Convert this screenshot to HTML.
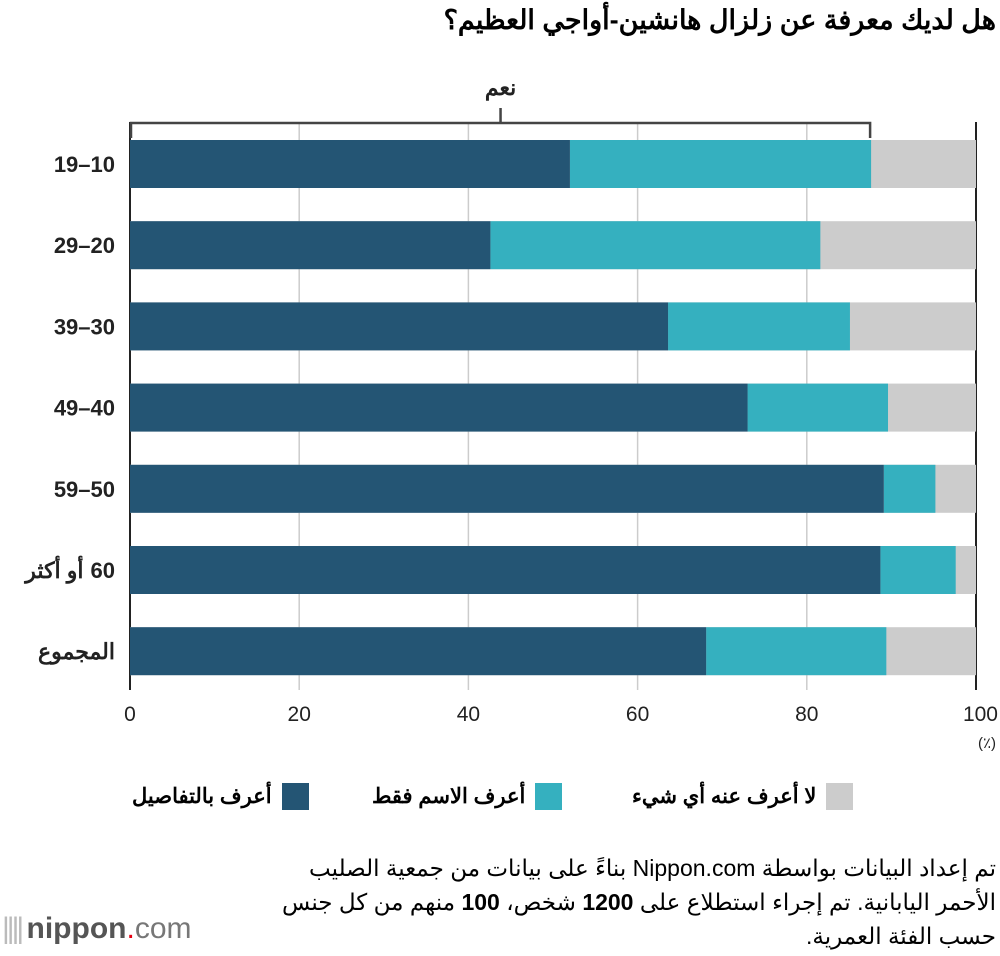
<!DOCTYPE html>
<html><head><meta charset="utf-8">
<style>
body{margin:0;width:1000px;height:956px;background:#fff;font-family:"Liberation Sans","Noto Sans CJK SC",sans-serif;overflow:hidden;position:relative}
.t{position:absolute;white-space:nowrap}
</style></head><body>
<div class="t" style="right:4px;top:5px;font-size:27px;font-weight:bold;direction:rtl">هل لديك معرفة عن زلزال هانشين-أواجي العظيم؟</div>
<svg id="chart" width="1000" height="956" style="position:absolute;left:0;top:0"></svg>
<div class="t" style="left:132px;top:783px;font-size:21px;font-weight:bold;direction:rtl;display:flex;align-items:center;gap:10px"><span style="width:27px;height:27px;background:#245574;display:inline-block"></span>أعرف بالتفاصيل</div>
<div class="t" style="left:372px;top:783px;font-size:21px;font-weight:bold;direction:rtl;display:flex;align-items:center;gap:10px"><span style="width:27px;height:27px;background:#35b0bf;display:inline-block"></span>أعرف الاسم فقط</div>
<div class="t" style="left:632px;top:783px;font-size:21px;font-weight:bold;direction:rtl;display:flex;align-items:center;gap:10px"><span style="width:27px;height:27px;background:#cccccc;display:inline-block"></span>لا أعرف عنه أي شيء</div>
<div class="t" style="right:4px;top:851px;font-size:23px;line-height:34px;direction:rtl;text-align:right">تم إعداد البيانات بواسطة Nippon.com بناءً على بيانات من جمعية الصليب<br>الأحمر اليابانية. تم إجراء استطلاع على <b>1200</b> شخص، <b>100</b> منهم من كل جنس<br>حسب الفئة العمرية.</div>
<div class="t" style="left:2px;top:912px;font-size:30px;color:#555;"><span style="color:#bbb;letter-spacing:-3px">|||| </span><span style="font-weight:bold">nippon</span><span style="color:#e60012">.</span><span style="color:#777">com</span></div>
<script>
const categories=["19–10","29–20","39–30","49–40","59–50","60 أو أكثر","المجموع"];
const detailValues=[52.0,42.6,63.6,73.0,89.1,88.7,68.1];
const nameOnlyValues=[35.6,39.0,21.5,16.6,6.1,8.9,21.3];
const ticks=[0,20,40,60,80,100];
const svg=document.getElementById('chart');
const NS='http://www.w3.org/2000/svg';
const x0=130,x1=976,yTop=140,step=81.2,bh=48;
const X=v=>x0+(x1-x0)*v/100;
const Y=i=>yTop+i*step;
function mk(tag,attrs){const e=document.createElementNS(NS,tag);for(const k in attrs)e.setAttribute(k,attrs[k]);svg.appendChild(e);return e;}
ticks.forEach(t=>{
  const edge=(t===0||t===100);
  const l=mk('line',{x1:X(t),x2:X(t),y1:122,y2:690,stroke:edge?'#222':'#ccc','stroke-width':edge?2:1.5});
  
  
  const tx=mk('text',{x:X(t),y:721,'text-anchor':t===100?'end':'middle','font-size':21,fill:'#222'});
  if(t===100)tx.setAttribute('x',X(t)+22);
  tx.textContent=t;
  
  
});
const u=mk('text',{x:996,y:748,'text-anchor':'end','font-size':15,fill:'#222'});u.textContent='(٪)';


categories.forEach((c,i)=>{
  const y=Y(i);
  const d=detailValues[i],n=nameOnlyValues[i];
  const r0=mk('rect',{x:X(0),y:y,width:X(100)-X(0),height:bh,fill:'#cccccc'});
  
  
  const r2=mk('rect',{x:X(d),y:y,width:X(d+n)-X(d),height:bh,fill:'#35b0bf'});
  
  
  const r1=mk('rect',{x:X(0),y:y,width:X(d)-X(0),height:bh,fill:'#245574'});
  
  
  const m=c.match(/^(\d+) (.+)$/);
  const lb=mk('text',{x:115,y:y+bh/2+8,'text-anchor':'end','font-size':22,'font-weight':'bold',fill:'#222'});
  lb.textContent=m?m[1]:c;
  
  
  if(m){
    const w=lb.getComputedTextLength();
    const nb=mk('text',{x:115-w-7,y:y+bh/2+8,'text-anchor':'end','font-size':22,'font-weight':'bold',fill:'#222'});
    nb.textContent=m[2];
    
    
  }
});
const yesEnd=detailValues[0]+nameOnlyValues[0];
const br=mk('path',{d:`M${X(0)+1},138 V123 H${X(yesEnd)-1} V138 M${(X(0)+X(yesEnd))/2},123 V108`,fill:'none',stroke:'#444','stroke-width':2.5});


const yt=mk('text',{x:(X(0)+X(yesEnd))/2,y:95,'text-anchor':'middle','font-size':22,'font-weight':'bold',fill:'#222'});
yt.textContent='نعم';


</script>
</body></html>
